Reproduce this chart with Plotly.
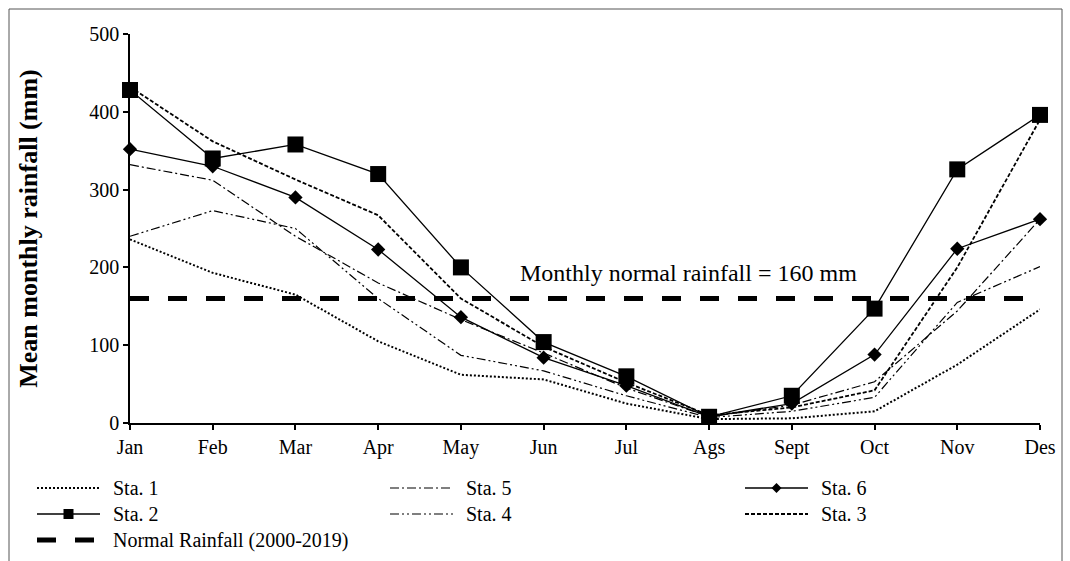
import plotly.graph_objects as go

months = ["Jan", "Feb", "Mar", "Apr", "May", "Jun", "Jul", "Ags", "Sept", "Oct", "Nov", "Des"]
sta1 = [236, 193, 165, 105, 62, 56, 25, 5, 6, 15, 75, 146]
sta2 = [428, 340, 358, 320, 200, 104, 60, 8, 35, 147, 326, 396]
sta3 = [432, 362, 313, 267, 160, 98, 52, 10, 20, 42, 200, 390]
sta4 = [240, 273, 250, 160, 87, 67, 35, 7, 15, 33, 155, 201]
sta5 = [332, 312, 240, 180, 133, 90, 45, 8, 23, 53, 144, 262]
sta6 = [352, 330, 290, 223, 136, 84, 48, 8, 25, 88, 224, 262]
normal_rainfall = 160
y_ticks = [0, 100, 200, 300, 400, 500]

FONT = "Liberation Serif, Times New Roman, serif"
x = list(range(len(months)))

styles = {
    "Sta. 1": dict(y=sta1, line=dict(color="black", width=2, dash="2px,2px"), marker=None),
    "Sta. 5": dict(y=sta5, line=dict(color="black", width=1.2, dash="9px,3px,2px,3px"), marker=None),
    "Sta. 4": dict(y=sta4, line=dict(color="black", width=1.2, dash="9px,3px,2px,3px,2px,3px"), marker=None),
    "Sta. 3": dict(y=sta3, line=dict(color="black", width=1.8, dash="4px,2px"), marker=None),
    "Sta. 6": dict(y=sta6, line=dict(color="black", width=1.3), marker=dict(symbol="diamond", size=11, color="black")),
    "Sta. 2": dict(y=sta2, line=dict(color="black", width=1.3), marker=dict(symbol="square", size=16, color="black")),
}

fig = go.Figure()

# normal rainfall line
fig.add_trace(go.Scatter(
    x=x, y=[normal_rainfall] * len(months), mode="lines", name="Normal Rainfall (2000-2019)",
    line=dict(color="black", width=5, dash="19px,19px"), showlegend=False, hoverinfo="skip",
))

for name, s in styles.items():
    fig.add_trace(go.Scatter(
        x=x, y=s["y"], name=name, showlegend=False,
        mode="lines+markers" if s["marker"] else "lines",
        line=s["line"], marker=s["marker"], cliponaxis=False,
    ))

# pixel helpers (plot area: x 130..1040, y 34..423)
L, R, T, B = 130, 1040, 34, 423
def xp(px):
    return (px - L) / (R - L)
def yp(py):
    return (B - py) / (B - T)

shapes = []
annotations = []

# outer border
shapes.append(dict(type="rect", xref="paper", yref="paper",
                   x0=xp(9), x1=xp(1062), y0=yp(575), y1=yp(9),
                   line=dict(color="#555555", width=1), fillcolor="rgba(0,0,0,0)", layer="below"))

# manual legend
legend_items = [
    ("Sta. 1", 37, 488), ("Sta. 5", 390, 488), ("Sta. 6", 745, 488),
    ("Sta. 2", 37, 514), ("Sta. 4", 390, 514), ("Sta. 3", 745, 514),
]
seg = 63
for name, lx, ly in legend_items:
    st = styles[name]
    ln = dict(color="black", width=st["line"]["width"])
    if "dash" in st["line"]:
        ln["dash"] = st["line"]["dash"]
    shapes.append(dict(type="line", xref="paper", yref="paper",
                       x0=xp(lx), x1=xp(lx + seg), y0=yp(ly), y1=yp(ly), line=ln))
    mk = st["marker"]
    cx = lx + seg / 2
    if mk is not None and mk["symbol"] == "square":
        h = 5
        shapes.append(dict(type="rect", xref="paper", yref="paper",
                           x0=xp(cx - h), x1=xp(cx + h), y0=yp(ly + h), y1=yp(ly - h),
                           fillcolor="black", line=dict(width=0)))
    elif mk is not None and mk["symbol"] == "diamond":
        h = 5
        path = "M {} {} L {} {} L {} {} L {} {} Z".format(
            xp(cx - h), yp(ly), xp(cx), yp(ly - h), xp(cx + h), yp(ly), xp(cx), yp(ly + h))
        shapes.append(dict(type="path", xref="paper", yref="paper", path=path,
                           fillcolor="black", line=dict(width=0)))
    annotations.append(dict(text=name, xref="paper", yref="paper", x=xp(lx + seg + 11), y=yp(ly),
                            xanchor="left", yanchor="middle", showarrow=False,
                            font=dict(family=FONT, size=20, color="black")))

# normal rainfall legend entry
shapes.append(dict(type="line", xref="paper", yref="paper",
                   x0=xp(37), x1=xp(100), y0=yp(540), y1=yp(540),
                   line=dict(color="black", width=5, dash="19px,19px")))
annotations.append(dict(text="Normal Rainfall (2000-2019)", xref="paper", yref="paper",
                        x=xp(111), y=yp(540), xanchor="left", yanchor="middle", showarrow=False,
                        font=dict(family=FONT, size=20, color="black")))

# in-plot annotation
annotations.append(dict(text="Monthly normal rainfall = 160 mm", x=6.75, y=193,
                        xref="x", yref="y", showarrow=False, xanchor="center", yanchor="middle",
                        font=dict(family=FONT, size=24, color="black")))

fig.update_layout(
    width=1070, height=561,
    margin=dict(l=L, r=1070 - R, t=T, b=561 - B, pad=0),
    paper_bgcolor="white", plot_bgcolor="white",
    font=dict(family=FONT, color="black"),
    showlegend=False,
    shapes=shapes, annotations=annotations,
    xaxis=dict(
        range=[0, 11], tickmode="array", tickvals=x, ticktext=months,
        showgrid=False, zeroline=False, showline=True, linecolor="black", linewidth=1.5,
        ticks="outside", ticklen=5, tickwidth=1.5, tickcolor="black",
        tickfont=dict(family=FONT, size=20, color="black"),
    ),
    yaxis=dict(
        range=[0, 500], tickmode="array", tickvals=y_ticks,
        showgrid=False, zeroline=False, showline=True, linecolor="black", linewidth=1.5,
        ticks="outside", ticklen=5, tickwidth=1.5, tickcolor="black",
        tickfont=dict(family=FONT, size=20, color="black"),
        title=dict(text="<b>Mean monthly rainfall (mm)</b>", standoff=44,
                   font=dict(family=FONT, size=26, color="black")),
    ),
)

fig.write_html("out.html")
